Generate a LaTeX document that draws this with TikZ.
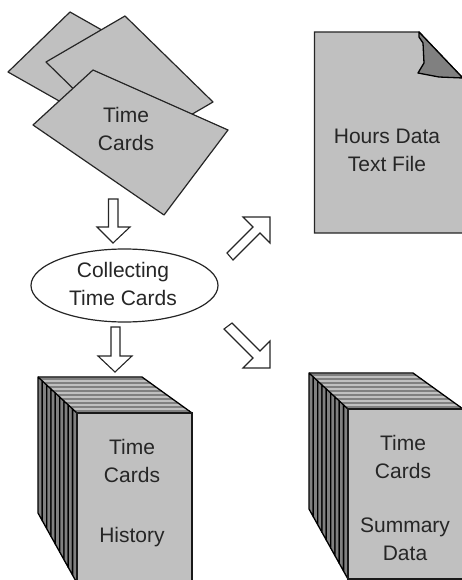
\documentclass[tikz,border=0pt]{standalone}
\usepackage{fontspec}
\usetikzlibrary{shapes.geometric}
\setmainfont{Liberation Sans}
\definecolor{panel}{RGB}{192,192,192}
\definecolor{fold}{RGB}{128,128,128}
\tikzset{
  x=1pt,y=-1pt,
  card/.style={draw=black!85,line width=1.2pt,fill=panel,line join=round},
  blockarrow/.style={draw=black!85,line width=1.1pt,fill=white,line join=miter},
  label/.style={inner sep=0pt,text=black!85,align=center,font=\fontsize{21}{28}\selectfont},
  pageedge/.style={draw=black,line width=1.3pt,fill=fold,line join=round},
}
% #1 x of back left, #2 y of back top
\newcommand{\pagestack}[2]{%
  \begin{scope}[shift={(#1,#2)}]
    \fill[panel] (0,0) -- (104,0) -- (154,36) -- (39,36) -- cycle;
    \foreach \k in {0,...,8}{
      \pgfmathsetmacro{\dx}{\k*4.33}
      \pgfmathsetmacro{\dy}{\k*4.0}
      \pgfmathsetmacro{\sy}{\dy+2.2}
      \pgfmathsetmacro{\sa}{\sy*39/36}
      \pgfmathsetmacro{\sb}{104+\sy*50/36}
      \draw[fold,line width=1.7pt] (\sa,\sy) -- (\sb,\sy);
      \pgfmathsetmacro{\ex}{\dx+4.33}
      \pgfmathsetmacro{\ey}{\dy+4.0}
      \pgfmathsetmacro{\by}{136+\k*7.78}
      \pgfmathsetmacro{\cy}{\by+7.78}
      \path[pageedge] (\dx,\dy) -- (\ex,\ey) -- (\ex,\cy) -- (\dx,\by) -- cycle;
    }
    \draw[black,line width=1.3pt] (0,0) -- (104,0) -- (154,36);
    \path[draw=black!90,line width=1.3pt,fill=panel] (39,36) rectangle ++(115,170);
  \end{scope}}
\begin{document}
\begin{tikzpicture}
\useasboundingbox (0,0) rectangle (462,580);
\clip (0,0) rectangle (462,580);
% time cards
\path[card] (70,12) -- (8,72) -- (68,106) -- (130,46) -- cycle;
\path[card] (125,16) -- (46,62) -- (134,148) -- (213,102) -- cycle;
\path[card] (93,70) -- (33,125) -- (164,215) -- (228,130) -- cycle;
\node[label] (cards) at (126,129) {Time\\Cards};
% hours file
\path[draw=black!85,line width=1.3pt,fill=panel,line join=miter] (462.8,78) -- (419,32) -- (314.5,32) -- (314.5,233) -- (462.8,233);
\path[draw=black,line width=1.3pt,fill=fold,line join=round] (419,32) -- (462.8,78) -- (439,77) -- (418,73) -- (424,63) -- (423,43) -- (419,37) -- cycle;
\node[label] (hours) at (387,150.5) {Hours Data\\Text File};
% arrows
\path[blockarrow] (108.5,199) -- (118,199) -- (118,227) -- (130,227) -- (113,243) -- (97,227) -- (108.5,227) -- cycle;
\path[blockarrow] (111,327) -- (120,327) -- (120,356) -- (132,356) -- (115,372) -- (98,356) -- (111,356) -- cycle;
\path[blockarrow] (270,217) -- (270,243) -- (260,233) -- (233,260) -- (227,253) -- (253,227) -- (243,217) -- cycle;
\path[blockarrow] (270,368) -- (243,368) -- (253,358) -- (224,329) -- (232,323) -- (260,351) -- (270,341) -- cycle;
% ellipse
\node[draw=black!85,line width=1.2pt,fill=white,ellipse,minimum width=187pt,minimum height=73pt,inner sep=0pt] (collect) at (124.5,285.5) {};
\node[label] (collecttext) at (123,283.5) {Collecting\\Time Cards};
% stacks
\pagestack{38}{377}
\node[label] (tc1) at (132,461) {Time\\Cards};
\node[label] (hist) at (132,537) {History};
\pagestack{309}{373}
\node[label] (tc2) at (403,457) {Time\\Cards};
\node[label] (sum) at (405,539.5) {Summary\\Data};
\end{tikzpicture}
\end{document}
